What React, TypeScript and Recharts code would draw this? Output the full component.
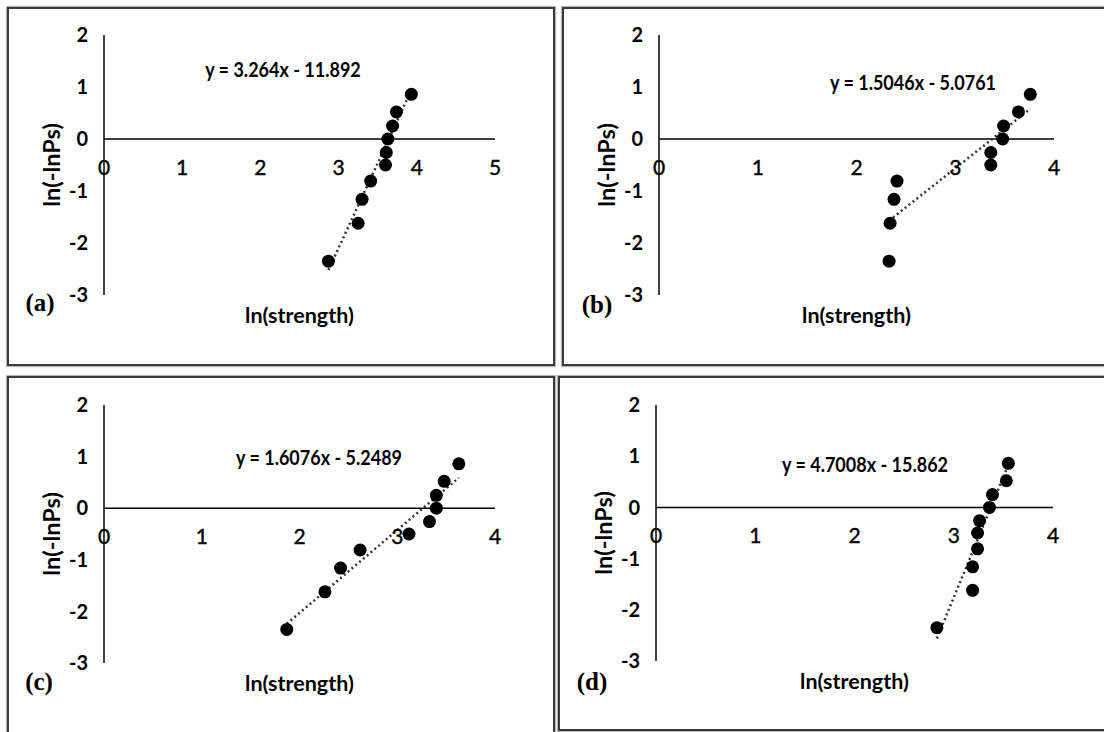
import React from 'react';
import {
  ScatterChart,
  Scatter,
  XAxis,
  YAxis,
  ReferenceLine,
  ReferenceDot,
} from 'recharts';

// ln(-ln Ps) plotting positions, shared by all four panels
const lnlnPs = [-2.35, -1.62, -1.16, -0.81, -0.5, -0.26, 0.0, 0.25, 0.52, 0.86];

// ln(strength) for each panel
const strengthA = [2.87, 3.25, 3.3, 3.41, 3.6, 3.61, 3.63, 3.69, 3.74, 3.93];
const strengthB = [2.33, 2.34, 2.38, 2.41, 3.36, 3.36, 3.48, 3.49, 3.64, 3.76];
const strengthC = [1.87, 2.26, 2.42, 2.62, 3.12, 3.33, 3.4, 3.4, 3.48, 3.63];
const strengthD = [2.83, 3.19, 3.19, 3.24, 3.24, 3.26, 3.36, 3.39, 3.53, 3.55];

// dotted linear trendline ends
const trendA = [{ x: 2.87, y: -2.52 }, { x: 3.93, y: 0.94 }];
const trendB = [{ x: 2.33, y: -1.57 }, { x: 3.76, y: 0.58 }];
const trendC = [{ x: 1.87, y: -2.24 }, { x: 3.63, y: 0.59 }];
const trendD = [{ x: 2.83, y: -2.56 }, { x: 3.55, y: 0.83 }];

const equations = [
  'y = 3.264x - 11.892',
  'y = 1.5046x - 5.0761',
  'y = 1.6076x - 5.2489',
  'y = 4.7008x - 15.862',
];
const tags = ['(a)', '(b)', '(c)', '(d)'];

const yTicks = [-3, -2, -1, 0, 1, 2];
const xTicks5 = [0, 1, 2, 3, 4, 5];
const xTicks4 = [0, 1, 2, 3, 4];

const FONT = 'Lato, "Open Sans", sans-serif';

const panels = [
  {
    tag: tags[0], eq: equations[0], xs: strengthA, trend: trendA, xTicks: xTicks5,
    frame: { x: 7, y: 7, w: 548, h: 359 },
    plot: { x: 104, y: 35, w: 391, h: 260 },
    eqPos: { x: 283, y: 69 }, tagPos: { x: 40, y: 302 },
  },
  {
    tag: tags[1], eq: equations[1], xs: strengthB, trend: trendB, xTicks: xTicks4,
    frame: { x: 562, y: 7, w: 620, h: 359 },
    plot: { x: 659, y: 35, w: 395, h: 260 },
    eqPos: { x: 913, y: 82 }, tagPos: { x: 597, y: 304 },
  },
  {
    tag: tags[2], eq: equations[2], xs: strengthC, trend: trendC, xTicks: xTicks4,
    frame: { x: 7, y: 376, w: 548, h: 400 },
    plot: { x: 104, y: 405, w: 391, h: 258 },
    eqPos: { x: 319, y: 457 }, tagPos: { x: 39, y: 681 },
  },
  {
    tag: tags[3], eq: equations[3], xs: strengthD, trend: trendD, xTicks: xTicks4,
    frame: { x: 558, y: 376, w: 620, h: 355 },
    plot: { x: 656, y: 405, w: 397, h: 256 },
    eqPos: { x: 865, y: 464 }, tagPos: { x: 592, y: 681 },
  },
];

const Dot = (props: any) => <circle cx={props.cx} cy={props.cy} r={6.5} fill="#000" />;

function Panel({ p }: { p: any }) {
  const data = p.xs.map((x: number, i: number) => ({ x, y: lnlnPs[i] }));
  const xMax = p.xTicks[p.xTicks.length - 1];
  const top = 30;
  const left = 100;
  return (
    <>
      <div
        style={{
          position: 'absolute',
          left: p.frame.x,
          top: p.frame.y,
          width: p.frame.w,
          height: p.frame.h,
          boxSizing: 'border-box',
          border: '2px solid #3a3a3a',
          boxShadow: '0 0 1px 1px #b8b8b8',
        }}
      />
      <div style={{ position: 'absolute', left: p.plot.x - left, top: p.plot.y - top }}>
        <ScatterChart
          width={p.plot.w + left + 30}
          height={p.plot.h + top + 50}
          margin={{ top, right: 30, left: left - 60, bottom: 10 }}
        >
          <XAxis
            type="number"
            dataKey="x"
            domain={[0, xMax]}
            ticks={p.xTicks}
            axisLine={false}
            tickLine={false}
            tick={false}
            height={40}
            label={{
              value: 'ln(strength)',
              position: 'insideTop',
              offset: 13,
              fill: '#000',
              fontSize: 21.5,
              fontWeight: 700,
              fontFamily: FONT,
            }}
          />
          <YAxis
            type="number"
            dataKey="y"
            domain={[-3, 2]}
            ticks={yTicks}
            width={60}
            axisLine={{ stroke: '#000', strokeWidth: 1.5 }}
            tickLine={false}
            tickSize={0}
            tickMargin={16}
            tick={{ fill: '#000', fontSize: 20, fontWeight: 700, fontFamily: FONT }}
            label={{
              value: 'ln(-lnPs)',
              angle: -90,
              position: 'insideLeft',
              offset: 8,
              fill: '#000',
              fontSize: 23.5,
              fontWeight: 700,
              fontFamily: FONT,
              style: { textAnchor: 'middle' },
            }}
          />
          <ReferenceLine y={0} stroke="#000" strokeWidth={1.5} />
          {p.xTicks.map((t: number) => (
            <ReferenceDot
              key={t}
              x={t}
              y={0}
              r={1}
              fill="none"
              stroke="none"
              label={{
                value: String(t),
                position: 'bottom',
                offset: 20,
                fill: '#000',
                fontSize: 21,
                fontWeight: 400,
                fontFamily: FONT,
                stroke: '#000',
                strokeWidth: 0.4,
              }}
            />
          ))}
          <ReferenceLine
            segment={p.trend}
            stroke="#333"
            strokeWidth={2.5}
            strokeDasharray="2 3"
          />
          <Scatter data={data} shape={<Dot />} isAnimationActive={false} />
        </ScatterChart>
      </div>
      <div
        style={{
          position: 'absolute',
          left: p.eqPos.x,
          top: p.eqPos.y,
          transform: 'translate(-50%, -50%) scaleY(1.15)',
          whiteSpace: 'nowrap',
          fontFamily: FONT,
          fontWeight: 700,
          fontSize: 18,
          lineHeight: 1,
          color: '#000',
        }}
      >
        {p.eq}
      </div>
      <div
        style={{
          position: 'absolute',
          left: p.tagPos.x,
          top: p.tagPos.y,
          transform: 'translate(-50%, -50%)',
          fontFamily: '"Liberation Serif", serif',
          fontWeight: 700,
          fontSize: 25,
          lineHeight: 1,
          color: '#000',
        }}
      >
        {p.tag}
      </div>
    </>
  );
}

export default function App() {
  return (
    <div
      style={{
        position: 'fixed',
        left: 0,
        top: 0,
        width: 1104,
        height: 732,
        overflow: 'hidden',
        background: '#fff',
      }}
    >
      {panels.map((p) => (
        <Panel key={p.tag} p={p} />
      ))}
    </div>
  );
}
